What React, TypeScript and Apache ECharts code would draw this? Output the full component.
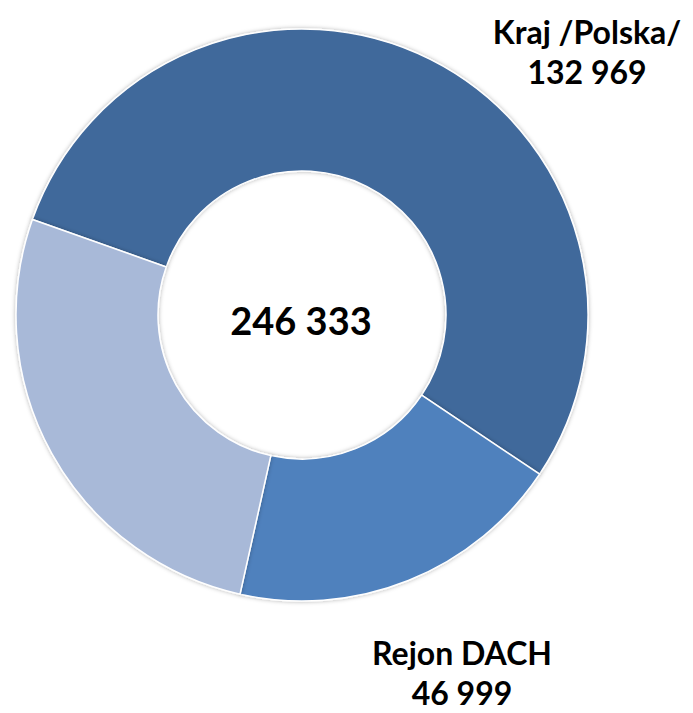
import React, { useEffect, useRef } from "react";
import * as echarts from "echarts";

const categories = ["Kraj /Polska/", "Rejon DACH", "Pozostałe"];
const values = [132969, 46999, 66365];
const colors = ["#41699B", "#4F81BD", "#A8B9D8"];
const showLabel = [true, true, false];

// label anchor positions (px) in the chart canvas
const labelPos: Record<number, [number, number]> = {
  0: [587, 51],
  1: [462, 672],
};

const fmt = (n: number) => String(n).replace(/\B(?=(\d{3})+(?!\d))/g, " ");

export default function App() {
  const ref = useRef<HTMLDivElement>(null);
  useEffect(() => {
    if (!ref.current) return;
    const chart = echarts.init(ref.current, undefined, { renderer: "svg" });
    const total = values.reduce((a, b) => a + b, 0);
    chart.setOption({
      animation: false,
      backgroundColor: "#ffffff",
      graphic: [
        {
          type: "text",
          x: 301,
          y: 320,
          style: {
            text: fmt(total),
            align: "center",
            verticalAlign: "middle",
            fill: "#000",
            font: "bold 38px Lato",
          },
        },
      ],
      series: [
        {
          type: "pie",
          center: [302, 315],
          radius: [144, 286],
          startAngle: 160.5,
          clockwise: true,
          avoidLabelOverlap: false,
          itemStyle: {
            borderColor: "#ffffff",
            borderWidth: 1.5,
            shadowBlur: 4,
            shadowColor: "rgba(0,0,0,0.3)",
          },
          label: {
            show: true,
            position: "outside",
            formatter: (p: any) => `${p.name}\n${fmt(p.value)}`,
            color: "#000",
            fontFamily: "Lato",
            fontWeight: "bold",
            fontSize: 32,
            lineHeight: 40,
            align: "center",
          },
          labelLine: { show: false },
          labelLayout: (p: any) => {
            const pos = labelPos[p.dataIndex];
            if (!pos) return {};
            return { x: pos[0], y: pos[1], align: "center", verticalAlign: "middle" };
          },
          data: categories.map((name, i) => ({
            name,
            value: values[i],
            itemStyle: { color: colors[i] },
            label: { show: showLabel[i] },
          })),
        },
      ],
    });
    return () => chart.dispose();
  }, []);
  return (
    <div
      ref={ref}
      style={{ position: "fixed", left: 0, top: 0, width: 693, height: 713 }}
    />
  );
}
